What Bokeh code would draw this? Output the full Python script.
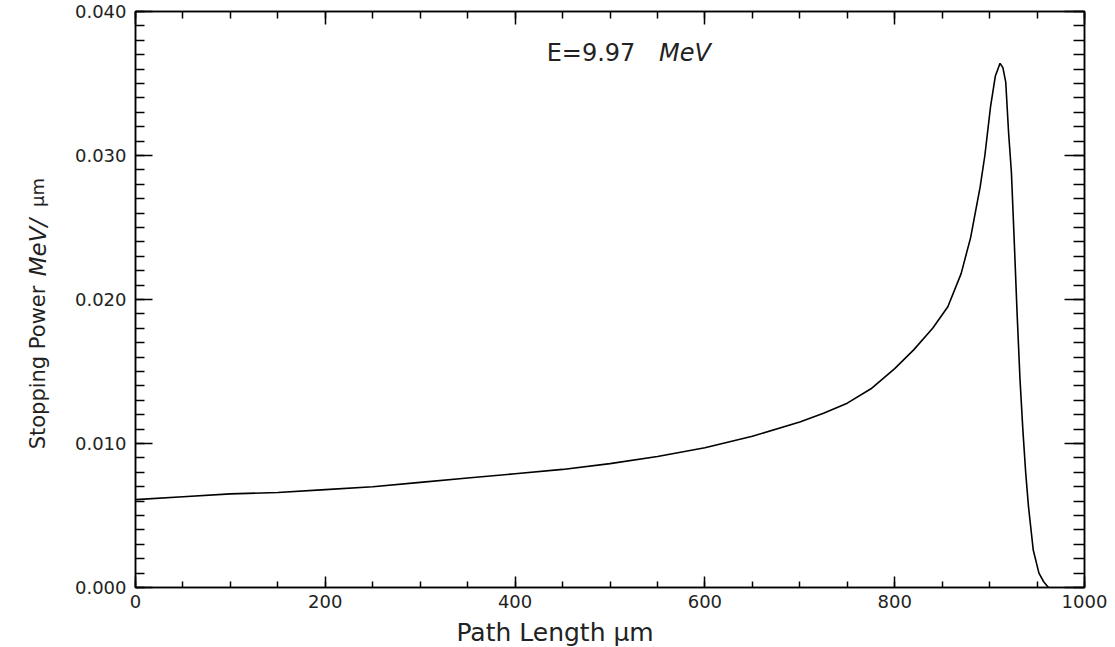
import math
from bokeh.plotting import figure
from bokeh.models import Range1d, LinearAxis, FixedTicker, PrintfTickFormatter, Label
from bokeh.embed import file_html
from bokeh.resources import INLINE

# ---- data ----
path_length = [0, 50, 100, 150, 200, 250, 300, 350, 400, 450, 500, 550, 600, 650,
               700, 725, 750, 775, 800, 820, 840, 856, 870, 880, 890, 895, 901, 906,
               911, 914, 917, 920, 923, 926, 929, 932, 935, 938, 941, 946, 952, 957, 962]
stopping_power = [0.0061, 0.0063, 0.0065, 0.0066, 0.0068, 0.0070, 0.0073, 0.0076,
                  0.0079, 0.0082, 0.0086, 0.0091, 0.0097, 0.0105, 0.0115, 0.0121,
                  0.0128, 0.0138, 0.0152, 0.0165, 0.0180, 0.0195, 0.0218, 0.0243,
                  0.0278, 0.0300, 0.0334, 0.0355, 0.0364, 0.0361, 0.0351, 0.0316,
                  0.0288, 0.0240, 0.0190, 0.0145, 0.0110, 0.0080, 0.0056, 0.0026,
                  0.0010, 0.0004, 0.0]
x_major_ticks = [0, 200, 400, 600, 800, 1000]
x_minor_ticks = list(range(0, 1001, 50))
y_major_ticks = [0.0, 0.01, 0.02, 0.03, 0.04]
y_minor_ticks = [i * 0.001 for i in range(41)]
title_text = "E=9.97"
title_unit = "MeV"
x_label = "Path Length μm"
y_label = "Stopping Power"
y_unit1 = "MeV/"
y_unit2 = "μm"

FONT = "DejaVu Sans"

p = figure(width=1107, height=647, output_backend="svg", toolbar_location=None,
           x_range=Range1d(0, 1000), y_range=Range1d(0, 0.04),
           x_axis_location=None, y_axis_location=None,
           min_border_left=134, min_border_right=23, min_border_top=11, min_border_bottom=60)
p.grid.visible = False
p.outline_line_color = "black"
p.outline_line_width = 1.5
p.background_fill_color = "white"
p.border_fill_color = "white"


def style(ax, major, minor, tin, tmin, labels=True):
    ax.ticker = FixedTicker(ticks=major, minor_ticks=minor)
    ax.major_tick_in = tin
    ax.major_tick_out = 0
    ax.minor_tick_in = tmin
    ax.minor_tick_out = 0
    ax.axis_line_color = "black"
    ax.axis_line_width = 1.5
    ax.major_tick_line_color = "black"
    ax.major_tick_line_width = 1.5
    ax.minor_tick_line_color = "black"
    ax.minor_tick_line_width = 1.5
    ax.major_label_text_font = FONT
    ax.major_label_text_color = "#222222"
    if labels:
        ax.major_label_text_font_size = "18px"
    else:
        ax.major_label_text_font_size = "0px"
        ax.major_label_standoff = 0


xb = LinearAxis()
style(xb, x_major_ticks, x_minor_ticks, 11, 6)
xb.major_label_standoff = 7
p.add_layout(xb, "below")

xt = LinearAxis()
style(xt, x_major_ticks, x_minor_ticks, 13, 7, labels=False)
p.add_layout(xt, "above")

yl = LinearAxis(formatter=PrintfTickFormatter(format="%.3f"))
style(yl, y_major_ticks, y_minor_ticks, 17, 9)
yl.major_label_standoff = 9
p.add_layout(yl, "left")

yr = LinearAxis()
style(yr, y_major_ticks, y_minor_ticks, 20, 11, labels=False)
p.add_layout(yr, "right")

p.line(path_length, stopping_power, line_color="black", line_width=1.6)

# pixel -> data helpers (frame spans page px 134..1084 x, 11..587 y)
def dx(px):
    return (px - 134) / 950 * 1000

def dy(py):
    return (587 - py) / 576 * 0.04

p.add_layout(Label(x=dx(590), y=dy(52), text=title_text, text_font=FONT, text_font_size="24px",
                   text_align="center", text_baseline="middle", text_color="#222222"))
p.add_layout(Label(x=dx(684), y=dy(52), text=title_unit, text_font=FONT, text_font_size="24px",
                   text_font_style="italic", text_align="center", text_baseline="middle",
                   text_color="#222222"))

p.add_layout(Label(x=dx(554), y=dy(632), text=x_label, text_font=FONT, text_font_size="25px",
                   text_align="center", text_baseline="alphabetic", text_color="#222222"), "below")

p.add_layout(Label(x=dx(36), y=dy(367), text=y_label, text_font=FONT, text_font_size="21px",
                   angle=math.pi / 2, text_align="center", text_baseline="alphabetic",
                   text_color="#222222"), "left")
p.add_layout(Label(x=dx(36), y=dy(247), text=y_unit1, text_font=FONT, text_font_size="23px",
                   text_font_style="italic", angle=math.pi / 2, text_align="center",
                   text_baseline="alphabetic", text_color="#222222"), "left")
p.add_layout(Label(x=dx(36), y=dy(192), text=y_unit2, text_font=FONT, text_font_size="18px",
                   angle=math.pi / 2, text_align="center", text_baseline="alphabetic",
                   text_color="#222222"), "left")

open("out.html", "w").write(file_html(p, INLINE))
